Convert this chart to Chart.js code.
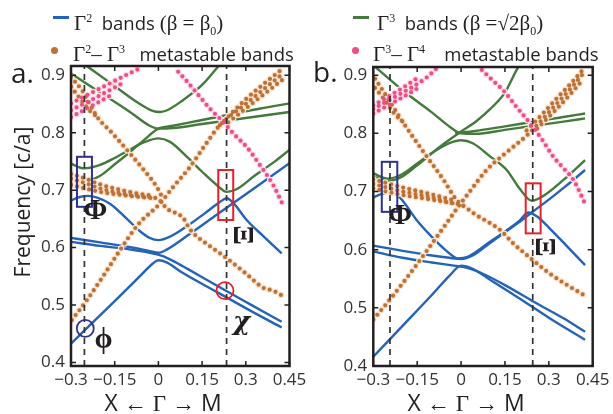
<!DOCTYPE html>
<html><head><meta charset="utf-8">
<script src="https://cdn.jsdelivr.net/npm/chart.js@4.4.1/dist/chart.umd.min.js"></script>
<style>
html,body{margin:0;padding:0;background:#fff;}
#wrap{position:relative;width:613px;height:414px;overflow:hidden;font-family:"Open Sans",sans-serif;color:#231f20;}
canvas{position:absolute;top:0;}
.t{position:absolute;white-space:nowrap;line-height:20px;font-size:18.5px;}
.g{font-family:"Liberation Serif",serif;font-size:21px;}
.g sup,.g sub{font-size:12px;}
.sw{position:absolute;height:3px;width:16px;}
.dot{position:absolute;width:7px;height:7px;border-radius:50%;}
.serif{font-family:"Liberation Serif",serif;}
.pl{position:absolute;font-size:28px;line-height:28px;}
.xt{position:absolute;font-size:23px;line-height:23px;transform:translateX(-50%);white-space:nowrap;}
.yt{position:absolute;font-size:21px;line-height:21px;transform:translate(-50%,-50%) rotate(-90deg);white-space:nowrap;}
</style></head><body>
<div id="wrap">
<canvas id="ca" width="306" height="414" style="left:0"></canvas>
<canvas id="cb" width="307" height="414" style="left:306px"></canvas>

<div class="sw" style="left:53px;top:16px;background:#2463b5"></div>
<div class="t" style="left:74px;top:8px;"><span class="g">Γ<sup>2</sup></span>&nbsp; bands <span class="g">(β = β<sub>0</sub>)</span></div>
<div class="sw" style="left:353px;top:16px;background:#447a3b"></div>
<div class="t" style="left:377px;top:8px;"><span class="g">Γ<sup>3</sup></span>&nbsp; bands <span class="g">(β =√2β<sub>0</sub>)</span></div>
<div class="dot" style="left:51px;top:47px;background:#bb7236"></div>
<div class="t" style="left:73px;top:39px;"><span class="g">Γ<sup>2</sup>– Γ<sup>3</sup></span>&nbsp;&nbsp; metastable bands</div>
<div class="dot" style="left:352px;top:47px;background:#ee4d86"></div>
<div class="t" style="left:373px;top:39px;"><span class="g">Γ<sup>3</sup>– Γ<sup>4</sup></span>&nbsp;&nbsp;&nbsp; metastable bands</div>

<div class="pl" style="left:11px;top:58px;">a.</div>
<div class="pl" style="left:313px;top:57px;">b.</div>
<div class="yt" style="left:22px;top:202px;">Frequency [c/a]</div>
<div class="xt" style="left:163px;top:391px;">X ← <span class="serif">Γ</span> → M</div>
<div class="xt" style="left:466px;top:391px;">X ← <span class="serif">Γ</span> → M</div>
</div>
<script>
// ---------------- axis ticks ----------------
const kTicks = [-0.3, -0.15, 0, 0.15, 0.3, 0.45];
const kTickLabels = ['\u22120.3', '\u22120.15', '0', '0.15', '0.3', '0.45'];
const freqTicks = [0.4, 0.5, 0.6, 0.7, 0.8, 0.9];
const freqTickLabels = ['0.4', '0.5', '0.6', '0.7', '0.8', '0.9'];

// ---------------- panel a : [k, frequency] ----------------
const aBlueLow = [[-0.3,0.433],[-0.15,0.507],[-0.06,0.552],[-0.02,0.572],[0,0.578],[0.03,0.574],[0.08,0.557],[0.2,0.523],[0.32,0.489],[0.423,0.461]];
const aBluePairLow = [[-0.3,0.61],[-0.2,0.603],[-0.1,0.597],[-0.03,0.591],[0.01,0.586],[0.05,0.577],[0.1,0.563],[0.2,0.534],[0.32,0.5],[0.423,0.471]];
const aBluePairUp = [[-0.3,0.617],[-0.2,0.609],[-0.1,0.601],[-0.03,0.594],[0,0.591],[0.03,0.597],[0.1,0.621],[0.2,0.657],[0.3,0.693],[0.45,0.747]];
const aBlueArc = [[-0.3,0.682],[-0.27,0.688],[-0.24,0.69],[-0.21,0.687],[-0.165,0.676],[-0.11,0.651],[-0.062,0.628],[-0.03,0.617],[0,0.613],[0.04,0.619],[0.1,0.638],[0.16,0.66],[0.21,0.679],[0.235,0.686],[0.26,0.676],[0.303,0.648],[0.36,0.62],[0.423,0.59]];
const aGreenU = [[-0.26,0.921],[-0.15,0.881],[-0.07,0.852],[-0.02,0.838],[0.006,0.836],[0.03,0.839],[0.08,0.855],[0.15,0.883],[0.21,0.918]];
const aGreenLow = [[-0.3,0.903],[-0.2,0.87],[-0.1,0.837],[-0.03,0.812],[0,0.807],[0.05,0.808],[0.15,0.815],[0.25,0.822],[0.35,0.829],[0.45,0.836]];
const aGreenRise = [[-0.3,0.722],[-0.25,0.716],[-0.2,0.725],[-0.15,0.745],[-0.1,0.765],[-0.05,0.787],[0,0.807],[0.05,0.812],[0.15,0.822],[0.25,0.832],[0.35,0.842],[0.45,0.851]];
const aGreenArc = [[-0.3,0.746],[-0.255,0.738],[-0.2,0.744],[-0.15,0.756],[-0.1,0.77],[-0.05,0.783],[0,0.79],[0.04,0.784],[0.1,0.757],[0.15,0.732],[0.2,0.709],[0.235,0.697],[0.27,0.702],[0.33,0.725],[0.4,0.75],[0.45,0.77]];
const aBrownFall = [[-0.3,0.897],[-0.26,0.872],[-0.211,0.828],[-0.16,0.8],[-0.108,0.77],[-0.05,0.735],[-0.006,0.706],[0.015,0.686]];
const aBrownFall2 = [[-0.3,0.88],[-0.27,0.86],[-0.235,0.838],[-0.211,0.828]];
const aBrownRise = [[-0.297,0.474],[-0.245,0.509],[-0.19,0.55],[-0.131,0.596],[-0.07,0.64],[0.006,0.677],[0.05,0.705],[0.108,0.74],[0.16,0.778],[0.211,0.813],[0.3,0.85],[0.36,0.875],[0.428,0.903]];
const aBrownRise2 = [[0.211,0.813],[0.3,0.858],[0.36,0.884],[0.428,0.912]];
const aBrownRise3 = [[0.24,0.818],[0.3,0.842],[0.36,0.866],[0.428,0.893]];
const aBrownFlat = [[-0.3,0.72],[-0.25,0.712],[-0.2,0.703],[-0.15,0.697],[-0.1,0.692],[-0.05,0.689],[0,0.684],[0.029,0.668],[0.086,0.651],[0.103,0.636],[0.12,0.625],[0.17,0.605],[0.228,0.584],[0.3,0.555],[0.36,0.53],[0.394,0.525],[0.423,0.517]];
const aBrownFlat2 = [[-0.3,0.709],[-0.2,0.697],[-0.1,0.69],[-0.02,0.686]];
const aBrownFlat3 = [[-0.3,0.728],[-0.25,0.72],[-0.2,0.71],[-0.1,0.697],[-0.02,0.69]];
const aPinkRise = [[-0.3,0.851],[-0.2,0.877],[-0.1,0.903],[-0.063,0.912]];
const aPinkRise2 = [[-0.3,0.839],[-0.2,0.865],[-0.12,0.887]];
const aPinkRise3 = [[-0.3,0.827],[-0.22,0.849],[-0.16,0.866]];
const aPinkFall = [[0.068,0.906],[0.1,0.888],[0.143,0.862],[0.18,0.84],[0.222,0.819],[0.26,0.797],[0.303,0.775],[0.348,0.744],[0.394,0.709],[0.426,0.676]];

// ---------------- panel b : [k, frequency] ----------------
const bBlueLow = [[-0.3,0.416],[-0.2,0.469],[-0.1,0.522],[-0.04,0.555],[0,0.5725],[0.04,0.567],[0.1,0.548],[0.2,0.516],[0.3,0.483],[0.424,0.445]];
const bBluePairLow = [[-0.3,0.597],[-0.2,0.586],[-0.1,0.578],[-0.03,0.573],[0.01,0.57],[0.06,0.562],[0.15,0.539],[0.25,0.51],[0.35,0.482],[0.424,0.459]];
const bBluePairUp = [[-0.3,0.607],[-0.2,0.598],[-0.1,0.59],[-0.04,0.586],[0,0.584],[0.04,0.59],[0.1,0.612],[0.2,0.648],[0.247,0.666],[0.3,0.686],[0.36,0.71],[0.424,0.737]];
const bBlueArc = [[-0.3,0.69],[-0.27,0.696],[-0.243,0.698],[-0.21,0.69],[-0.152,0.651],[-0.1,0.622],[-0.05,0.598],[-0.01,0.585],[0.02,0.587],[0.1,0.614],[0.2,0.65],[0.23,0.664],[0.26,0.657],[0.3,0.638],[0.36,0.607],[0.424,0.5735]];
const bGreenLow = [[-0.3,0.917],[-0.2,0.874],[-0.1,0.836],[-0.038,0.811],[0,0.8],[0.05,0.799],[0.15,0.806],[0.25,0.813],[0.35,0.82],[0.424,0.8256]];
const bGreenFlat = [[-0.02,0.8],[0.05,0.804],[0.15,0.812],[0.25,0.82],[0.35,0.828],[0.424,0.834]];
const bGreenRise = [[-0.3,0.726],[-0.25,0.718],[-0.2,0.726],[-0.15,0.745],[-0.072,0.777],[0,0.803],[0.05,0.82],[0.1,0.842],[0.15,0.87],[0.19,0.909],[0.215,0.93]];
const bGreenArc = [[-0.3,0.731],[-0.25,0.722],[-0.2,0.73],[-0.15,0.748],[-0.1,0.766],[-0.04,0.783],[0,0.788],[0.04,0.783],[0.1,0.76],[0.156,0.737],[0.2,0.705],[0.242,0.684],[0.28,0.692],[0.35,0.72],[0.424,0.754]];
const bBrownFall = [[-0.294,0.894],[-0.254,0.863],[-0.2,0.82],[-0.117,0.76],[-0.06,0.72],[-0.015,0.685],[0.01,0.675]];
const bBrownFall2 = [[-0.294,0.878],[-0.265,0.86],[-0.23,0.835],[-0.2,0.82]];
const bBrownFlat = [[-0.3,0.713],[-0.2,0.7],[-0.1,0.69],[-0.03,0.68],[0,0.677],[0.05,0.66],[0.133,0.634],[0.18,0.61],[0.224,0.591],[0.3,0.56],[0.36,0.54],[0.43,0.519]];
const bBrownFlat2 = [[-0.3,0.721],[-0.2,0.707],[-0.1,0.695],[-0.02,0.684]];
const bBrownFlat3 = [[-0.3,0.705],[-0.2,0.694],[-0.1,0.686],[-0.02,0.679]];
const bBrownRise = [[-0.3,0.48],[-0.25,0.51],[-0.2,0.542],[-0.152,0.574],[-0.1,0.61],[-0.05,0.645],[-0.015,0.67],[0.03,0.7],[0.0875,0.737],[0.15,0.765],[0.224,0.796],[0.28,0.825],[0.327,0.851],[0.38,0.88],[0.418,0.903]];
const bBrownRise2 = [[0.224,0.805],[0.28,0.834],[0.327,0.86],[0.38,0.888],[0.418,0.91]];
const bBrownRise3 = [[0.26,0.808],[0.327,0.842],[0.38,0.871],[0.418,0.893]];
const bPinkRise = [[-0.3,0.842],[-0.2,0.87],[-0.12,0.895],[-0.083,0.912]];
const bPinkRise2 = [[-0.3,0.834],[-0.2,0.862],[-0.14,0.88]];
const bPinkRise3 = [[-0.3,0.848],[-0.2,0.878],[-0.15,0.895]];
const bPinkFall = [[0.071,0.909],[0.11,0.89],[0.144,0.874],[0.19,0.845],[0.236,0.817],[0.28,0.787],[0.315,0.76],[0.35,0.74],[0.384,0.72],[0.424,0.679]];

// ---------------- annotation anchors (k, frequency) ----------------
const aDashK = [-0.254, 0.234];
const bDashK = [-0.243, 0.245];

const COL = {blue:'#2463b5', green:'#447a3b', brown:'#bb7236', pink:'#ee4d86',
  brownHalo:'#fbe4d3', pinkHalo:'#fde0ea', navy:'#2e3192', red:'#e8202a', frame:'#231f20'};

function pts(arr){ return arr.map(p => ({x:p[0], y:p[1]})); }
function lineDs(arr, color){
  return {data:pts(arr), borderColor:color, borderWidth:2.4, pointRadius:0, fill:false,
    cubicInterpolationMode:'monotone', order:3};
}
function dotDs(arr, color, halo){
  const d = pts(arr);
  return [
    {data:d, borderColor:color, borderWidth:4.2, borderDash:[0,6.2], borderCapStyle:'round',
      pointRadius:0, fill:false, cubicInterpolationMode:'monotone', order:1},
    {data:d, borderColor:halo, borderWidth:6.6, borderDash:[0,6.2], borderCapStyle:'round',
      pointRadius:0, fill:false, cubicInterpolationMode:'monotone', order:2}
  ];
}

const framePlugin = {
  id:'frame',
  afterDatasetsDraw(chart){
    const o = chart.options.plugins.frame;
    const {ctx, chartArea:ca} = chart;
    const x = chart.scales.x, y = chart.scales.y;
    ctx.save();
    ctx.strokeStyle = '#333'; ctx.lineWidth = 1.7; ctx.setLineDash([6,5]);
    o.dashK.forEach(k => { const px = x.getPixelForValue(k);
      ctx.beginPath(); ctx.moveTo(px, ca.bottom); ctx.lineTo(px, ca.top); ctx.stroke(); });
    ctx.setLineDash([]);
    o.boxes.forEach(b => {
      const x0 = x.getPixelForValue(b.k[0]), x1 = x.getPixelForValue(b.k[1]);
      const y0 = y.getPixelForValue(b.f[0]), y1 = y.getPixelForValue(b.f[1]);
      ctx.strokeStyle = b.color; ctx.lineWidth = 2;
      ctx.strokeRect(x0, y1, x1 - x0, y0 - y1);
    });
    o.circles.forEach(c => {
      ctx.strokeStyle = c.color; ctx.lineWidth = 1.8;
      ctx.beginPath(); ctx.arc(x.getPixelForValue(c.k), y.getPixelForValue(c.f), c.r, 0, Math.PI*2); ctx.stroke();
    });
    ctx.fillStyle = COL.frame; ctx.textAlign = 'center'; ctx.textBaseline = 'middle';
    o.labels.forEach(l => {
      ctx.save();
      ctx.translate(x.getPixelForValue(l.k), y.getPixelForValue(l.f));
      if (l.rot) ctx.rotate(l.rot);
      ctx.font = l.font;
      ctx.fillText(l.text, 0, 0);
      ctx.restore();
    });
    ctx.strokeStyle = COL.frame; ctx.lineWidth = 2.5;
    ctx.strokeRect(ca.left, ca.top, ca.right - ca.left, ca.bottom - ca.top);
    ctx.lineWidth = 1.5;
    x.ticks.forEach(t => { const px = x.getPixelForValue(t.value);
      ctx.beginPath(); ctx.moveTo(px, ca.bottom); ctx.lineTo(px, ca.bottom - 5);
      ctx.moveTo(px, ca.top); ctx.lineTo(px, ca.top + 5); ctx.stroke(); });
    y.ticks.forEach(t => { const py = y.getPixelForValue(t.value);
      ctx.beginPath(); ctx.moveTo(ca.left, py); ctx.lineTo(ca.left + 5, py);
      ctx.moveTo(ca.right, py); ctx.lineTo(ca.right - 5, py); ctx.stroke(); });
    ctx.restore();
  }
};

function makePanel(id, cfg){
  const ds = [];
  cfg.dots.forEach(d => ds.push(...dotDs(d.arr, d.color, d.halo)));
  cfg.lines.forEach(l => ds.push(lineDs(l.arr, l.color)));
  return new Chart(document.getElementById(id), {
    type:'line',
    data:{datasets:ds},
    options:{
      responsive:false, animation:false, events:[],
      layout:{padding:cfg.padding},
      plugins:{legend:{display:false}, tooltip:{enabled:false}, frame:cfg.frame},
      scales:{
        x:{type:'linear', min:-0.3, max:0.45,
          grid:{display:false, drawTicks:false}, border:{display:false},
          afterBuildTicks:s => { s.ticks = kTicks.map(v => ({value:v})); },
          afterFit:s => { s.height = cfg.xAxisH; s.paddingLeft = 0; s.paddingRight = 0; },
          ticks:{autoSkip:false, maxRotation:0, padding:4, color:'#333',
            font:{family:'"Open Sans", sans-serif', size:17},
            callback:(v, i) => kTickLabels[i]}},
        y:{type:'linear', min:cfg.fMin, max:cfg.fMax,
          grid:{display:false, drawTicks:false}, border:{display:false},
          afterBuildTicks:s => { s.ticks = freqTicks.map(v => ({value:v})); },
          afterFit:s => { s.width = cfg.yAxisW; s.paddingTop = 0; s.paddingBottom = 0; },
          ticks:{padding:6, color:'#333',
            font:{family:'"Open Sans", sans-serif', size:17},
            callback:(v, i) => freqTickLabels[i]}}
      }
    },
    plugins:[framePlugin]
  });
}

const brownDot = a => ({arr:a, color:COL.brown, halo:COL.brownHalo});
const pinkDot = a => ({arr:a, color:COL.pink, halo:COL.pinkHalo});
const BIG = 'bold 29px "Liberation Serif", serif';

makePanel('ca', {
  padding:{left:0, right:16.5, top:66, bottom:0}, yAxisW:71, xAxisH:48, fMin:0.394, fMax:0.916,
  dots:[pinkDot(aPinkRise), pinkDot(aPinkRise2), pinkDot(aPinkRise3), pinkDot(aPinkFall),
        brownDot(aBrownFall), brownDot(aBrownFall2), brownDot(aBrownRise), brownDot(aBrownRise2), brownDot(aBrownRise3),
        brownDot(aBrownFlat), brownDot(aBrownFlat2), brownDot(aBrownFlat3)],
  lines:[{arr:aBlueLow, color:COL.blue}, {arr:aBluePairLow, color:COL.blue}, {arr:aBluePairUp, color:COL.blue}, {arr:aBlueArc, color:COL.blue},
         {arr:aGreenU, color:COL.green}, {arr:aGreenLow, color:COL.green}, {arr:aGreenRise, color:COL.green}, {arr:aGreenArc, color:COL.green}],
  frame:{dashK:aDashK,
    boxes:[{k:[-0.2795,-0.2281], f:[0.671,0.758], color:COL.navy}, {k:[0.2055,0.2568], f:[0.648,0.735], color:COL.red}],
    circles:[{k:-0.251, f:0.4595, r:8.5, color:COL.navy}, {k:0.2285, f:0.525, r:8.5, color:COL.red}],
    labels:[{text:'Φ', k:-0.2168, f:0.6623, font:BIG},
            {text:'Ξ', k:0.2856, f:0.6217, font:BIG, rot:Math.PI/2},
            {text:'ϕ', k:-0.1884, f:0.4391, font:BIG},
            {text:'χ', k:0.2856, f:0.468, font:'bold italic 26px "DejaVu Serif", serif'}]}
});

makePanel('cb', {
  padding:{left:0, right:20.3, top:67, bottom:0}, yAxisW:67.3, xAxisH:48, fMin:0.4, fMax:0.914,
  dots:[pinkDot(bPinkRise), pinkDot(bPinkRise2), pinkDot(bPinkRise3), pinkDot(bPinkFall),
        brownDot(bBrownFall), brownDot(bBrownFall2), brownDot(bBrownRise), brownDot(bBrownRise2), brownDot(bBrownRise3),
        brownDot(bBrownFlat), brownDot(bBrownFlat2), brownDot(bBrownFlat3)],
  lines:[{arr:bBlueLow, color:COL.blue}, {arr:bBluePairLow, color:COL.blue}, {arr:bBluePairUp, color:COL.blue}, {arr:bBlueArc, color:COL.blue},
         {arr:bGreenLow, color:COL.green}, {arr:bGreenFlat, color:COL.green}, {arr:bGreenRise, color:COL.green}, {arr:bGreenArc, color:COL.green}],
  frame:{dashK:bDashK,
    boxes:[{k:[-0.271,-0.218], f:[0.665,0.751], color:COL.navy}, {k:[0.221,0.272], f:[0.628,0.714], color:COL.red}],
    circles:[],
    labels:[{text:'Φ', k:-0.2087, f:0.6565, font:BIG},
            {text:'Ξ', k:0.2812, f:0.605, font:BIG, rot:Math.PI/2}]}
});
</script>
</body></html>
